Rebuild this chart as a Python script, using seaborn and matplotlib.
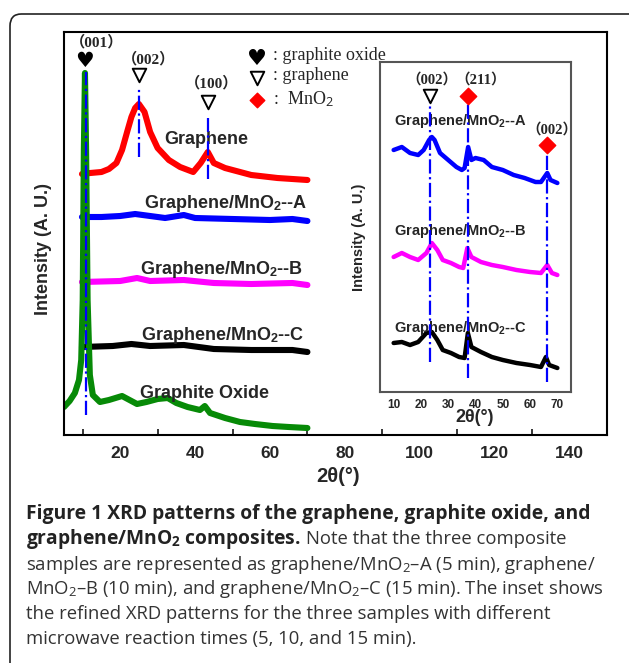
import matplotlib
matplotlib.use("Agg")
import matplotlib.pyplot as plt
import seaborn as sns
import pandas as pd
from matplotlib.patches import FancyBboxPatch

# ---------------- data ----------------
# main panel: 2theta (deg) vs. intensity (arbitrary, offset traces)
gr_x = [9.8, 12, 15, 17, 19, 20.5, 22, 23, 24, 25, 26.5, 28, 30, 33, 36, 39.5, 41.5, 43.4, 45, 48, 52, 55, 62, 70]
gr_y = [261, 262, 263, 266, 272, 285, 305, 318, 327, 331, 323, 303, 287, 275, 268, 263, 272, 283, 272, 267, 263, 260, 257, 255]

a_x = [9.8, 15, 20, 24, 28, 32, 37, 40, 50, 60, 66, 70]
a_y = [218, 218, 219, 221, 219, 217, 220, 217, 216, 215, 216, 214]

b_x = [9.8, 20, 24.5, 28, 37, 45, 55, 66, 70]
b_y = [153, 154, 157, 154, 155, 152, 151, 152, 150]

c_x = [9.8, 18, 23, 28, 37, 45, 55, 66, 70]
c_y = [88, 89, 91, 89, 90, 86, 85, 85, 83]

go_x = [5.0, 6.5, 7.9, 9.0, 9.6, 10.0, 10.3, 10.6, 10.9, 11.3, 11.9, 12.7, 14.6, 17, 20.5, 22.5, 24.5, 27, 30, 32.7,
        35, 38, 41.3, 42.6, 44, 48, 52, 56, 60.7, 65, 70]
go_y = [28, 34, 42, 55, 75, 135, 285, 362, 285, 135, 60, 40, 33, 35, 39, 35, 31, 33, 36, 37,
        32, 28, 25, 29, 22, 17, 13, 11, 9, 8, 7]

main_names = ["Graphene", "Graphene/MnO2--A", "Graphene/MnO2--B", "Graphene/MnO2--C", "Graphite Oxide"]
main_colors = ["#FF0000", "#0000FF", "#FF00FF", "#000000", "#078A07"]

# inset: refined patterns of the three composites
ia_x = [10, 13, 16, 19, 21, 23, 24, 25, 27, 30, 33, 35, 36, 37.3, 38.5, 40, 43, 46, 50, 54, 58, 62, 64, 66.3, 67.5, 70]
ia_y = [242, 245, 239, 237, 242, 252, 255, 252, 239, 232, 225, 222, 224, 245, 232, 234, 232, 225, 222, 217, 214, 210, 210, 219, 212, 209]

ib_x = [10, 13, 16, 19, 22, 24, 26, 28, 31, 34, 35.5, 37, 38.5, 42, 46, 50, 55, 60, 64, 66.3, 68, 70]
ib_y = [135, 139, 135, 132, 139, 149, 142, 132, 129, 125, 124, 144, 135, 130, 127, 125, 122, 120, 119, 127, 119, 117]

ic_x = [10, 13, 16, 19, 22, 24, 26, 28, 31, 34, 36, 37.2, 38.5, 42, 46, 50, 55, 60, 64, 65.8, 67, 70]
ic_y = [49, 50, 47, 50, 59, 60, 52, 42, 39, 35, 34, 59, 45, 40, 35, 32, 29, 27, 25, 35, 27, 24]

inset_names = ["Graphene/MnO2--A", "Graphene/MnO2--B", "Graphene/MnO2--C"]
inset_colors = ["#0000FF", "#FF00FF", "#000000"]

main_ticks = [20, 40, 60, 80, 100, 120, 140]
inset_ticks = [10, 20, 30, 40, 50, 60, 70]

# reference lines (2theta) and peak markers
main_ref_x = [10.8, 25, 43.4]
inset_ref_x = [23.5, 37.3, 66.3]

# ---------------- style ----------------
sns.set_style("white")
plt.rcParams["font.family"] = ["Liberation Sans", "DejaVu Sans"]
plt.rcParams["mathtext.fontset"] = "custom"
plt.rcParams["mathtext.rm"] = "Open Sans"
plt.rcParams["mathtext.bf"] = "Open Sans:bold"
plt.rcParams["mathtext.sf"] = "Liberation Sans:bold"
plt.rcParams["mathtext.it"] = "Liberation Serif"

W, H = 629, 663
fig = plt.figure(figsize=(W / 100, H / 100), dpi=100)


def fx(px):
    return px / W


def fy(py):
    return 1 - py / H


# frame around figure + caption
frame = FancyBboxPatch((fx(10), fy(700)), fx(660), (700 - 14) / H,
                       boxstyle="round,pad=0,rounding_size=0.018",
                       transform=fig.transFigure, fill=False, edgecolor="#222222", linewidth=1.2)
fig.patches.append(frame)

# ---------------- main axes ----------------
ax = fig.add_axes([fx(64), fy(435), (607 - 64) / W, (435 - 32) / H])
rows = []
for name, xs, ys in zip(main_names, [gr_x, a_x, b_x, c_x, go_x], [gr_y, a_y, b_y, c_y, go_y]):
    for xv, yv in zip(xs, ys):
        rows.append({"two_theta": xv, "intensity": yv, "sample": name})
main_df = pd.DataFrame(rows)
sns.lineplot(data=main_df, x="two_theta", y="intensity", hue="sample", hue_order=main_names,
             palette=main_colors, estimator=None, sort=False, legend=False, linewidth=4.4, ax=ax)

ax.set_xlim(5, 150)
ax.set_ylim(0, 403)
ax.set_xticks(main_ticks)
ax.set_xticks(list(range(10, 150, 20)), minor=True)
ax.set_yticks([])
ax.tick_params(axis="x", which="major", direction="in", length=5, width=1.3, pad=8, labelsize=12.5)
ax.tick_params(axis="x", which="minor", direction="in", length=4, width=1.3, bottom=True)
for lab in ax.get_xticklabels():
    lab.set_fontweight("bold")
for sp in ax.spines.values():
    sp.set_color("black")
    sp.set_linewidth(1.5)
ax.set_xlabel("")
ax.set_ylabel("")

# reference dash-dot lines
ax.plot([main_ref_x[0]] * 2, [20, 363], color="#0000FF", ls="-.", lw=1.6, zorder=5)
ax.plot([main_ref_x[1]] * 2, [278, 347], color="#0000FF", ls="-.", lw=1.6, zorder=5)
ax.plot([main_ref_x[2]] * 2, [256, 317], color="#0000FF", ls="-.", lw=1.6, zorder=5)

# peak markers
ax.text(10.6, 374, "\u2665", fontsize=15, family="DejaVu Sans", ha="center", va="center", color="black")
ax.scatter([25, 43.4], [360, 333], marker="v", s=95, facecolor="white", edgecolor="black", linewidth=1.4, zorder=6)
hkl_font = dict(family=["Liberation Serif", "Noto Sans CJK SC"], fontweight="bold", fontsize=11,
                ha="center", va="center")
ax.text(13.8, 393, "\uff08001\uff09", **hkl_font)
ax.text(27.7, 376, "\uff08002\uff09", **hkl_font)
ax.text(44.4, 352, "\uff08100\uff09", **hkl_font)

# symbol key
ax.text(56.5, 376, "\u2665", fontsize=16, family="DejaVu Sans", ha="center", va="center", color="black")
ax.scatter([56.5], [357], marker="v", s=95, facecolor="white", edgecolor="black", linewidth=1.4)
ax.scatter([56.5], [335], marker="D", s=55, facecolor="#FF0000", edgecolor="#FF0000")
key_font = dict(family="Liberation Serif", fontsize=13, ha="left", va="center")
ax.text(60.7, 380, ": graphite oxide", **key_font)
ax.text(60.7, 359, ": graphene", **key_font)
ax.text(60.7, 336, ":  MnO$_\\mathit{2}$", **key_font)

# curve labels
lab_font = dict(fontsize=13, fontweight="bold", ha="center", va="baseline")
ax.text(42.9, 291.5, "Graphene", **lab_font)
ax.text(48.1, 226.5, "Graphene/MnO$_\\mathsf{2}$--A", **lab_font)
ax.text(47.1, 160.5, "Graphene/MnO$_\\mathsf{2}$--B", **lab_font)
ax.text(47.3, 95.5, "Graphene/MnO$_\\mathsf{2}$--C", **lab_font)
ax.text(42.5, 36.5, "Graphite Oxide", **lab_font)

fig.text(fx(43), fy(249), "Intensity (A. U.)", rotation=90, fontsize=13, fontweight="bold",
         ha="center", va="center")
fig.text(fx(338), fy(477), "2\u03b8(\u00b0)", fontsize=14.5, fontweight="bold", ha="center", va="center")

# ---------------- inset ----------------
ins = fig.add_axes([fx(380), fy(392), (571 - 380) / W, (392 - 62) / H])
rows = []
for name, xs, ys in zip(inset_names, [ia_x, ib_x, ic_x], [ia_y, ib_y, ic_y]):
    for xv, yv in zip(xs, ys):
        rows.append({"two_theta": xv, "intensity": yv, "sample": name})
inset_df = pd.DataFrame(rows)
sns.lineplot(data=inset_df, x="two_theta", y="intensity", hue="sample", hue_order=inset_names,
             palette=inset_colors, estimator=None, sort=False, legend=False, linewidth=3.2, ax=ins)
ins.set_xlim(5, 75)
ins.set_ylim(0, 330)
ins.set_xticks(inset_ticks)
ins.set_yticks([])
ins.tick_params(axis="x", direction="in", length=4, width=1.1, pad=5, labelsize=8.5)
for lab in ins.get_xticklabels():
    lab.set_fontweight("bold")
for sp in ins.spines.values():
    sp.set_color("#555555")
    sp.set_linewidth(1.5)
ins.set_xlabel("")
ins.set_ylabel("")

ins.plot([inset_ref_x[0]] * 2, [30, 290], color="#0000FF", ls="-.", lw=1.6, zorder=5)
ins.plot([inset_ref_x[1]] * 2, [14, 290], color="#0000FF", ls="-.", lw=1.6, zorder=5)
ins.plot([inset_ref_x[2]] * 2, [10, 239], color="#0000FF", ls="-.", lw=1.6, zorder=5)
ins.scatter([23.5], [296], marker="v", s=95, facecolor="white", edgecolor="black", linewidth=1.4, zorder=6)
ins.scatter([37.3, 66.3], [296, 247], marker="D", s=70, facecolor="#FF0000", edgecolor="#FF0000", zorder=6)
hkl_font2 = dict(hkl_font)
hkl_font2["fontsize"] = 10.5
ins.text(24, 312.7, "\uff08002\uff09", **hkl_font2)
ins.text(41.9, 312.7, "\uff08211\uff09", **hkl_font2)
ins.text(68.1, 262.7, "\uff08002\uff09", **hkl_font2)

ilab = dict(fontsize=10.5, fontweight="bold", ha="left", va="baseline")
ins.text(10, 267, "Graphene/MnO$_\\mathsf{2}$--A", **ilab)
ins.text(10, 157, "Graphene/MnO$_\\mathsf{2}$--B", **ilab)
ins.text(10, 60, "Graphene/MnO$_\\mathsf{2}$--C", **ilab)

fig.text(fx(359), fy(237), "Intensity (A. U.)", rotation=90, fontsize=10.5, fontweight="bold",
         ha="center", va="center")
fig.text(fx(475), fy(418), "2\u03b8(\u00b0)", fontsize=13, fontweight="bold", ha="center", va="center")

# ---------------- caption ----------------
renderer = fig.canvas.get_renderer()
bold = dict(family="Open Sans", fontweight="bold", fontsize=13.9, color="#222222", va="baseline")
reg = dict(family="Open Sans", fontweight="normal", fontsize=13.35, color="#333333", va="baseline")

fig.text(fx(26), fy(519), "Figure 1 XRD patterns of the graphene, graphite oxide, and", **bold)
t = fig.text(fx(26), fy(544), "graphene/MnO$_\\mathbf{2}$ composites.", **bold)
bb = t.get_window_extent(renderer)
fig.text(bb.x1 / W + fx(5), fy(544), "Note that the three composite", **reg)
fig.text(fx(26), fy(570), "samples are represented as graphene/MnO$_\\mathrm{2}$\u2013A (5 min), graphene/", **reg)
fig.text(fx(26), fy(594), "MnO$_\\mathrm{2}$\u2013B (10 min), and graphene/MnO$_\\mathrm{2}$\u2013C (15 min). The inset shows", **reg)
fig.text(fx(26), fy(619), "the refined XRD patterns for the three samples with different", **reg)
fig.text(fx(26), fy(644), "microwave reaction times (5, 10, and 15 min).", **reg)

fig.savefig("out.png", dpi=100)
